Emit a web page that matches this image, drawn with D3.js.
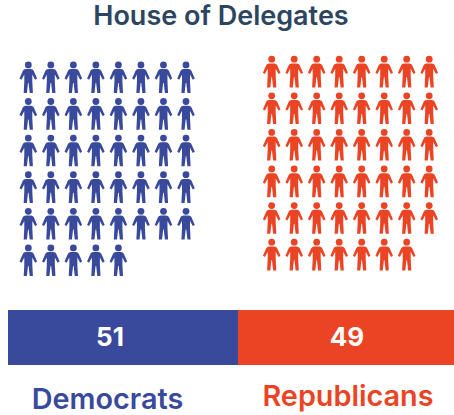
<!DOCTYPE html>
<html>
<head>
<meta charset="utf-8">
<script src="https://cdn.jsdelivr.net/npm/d3@7"></script>
<style>
  html, body { margin: 0; padding: 0; background: #fff; overflow: hidden; }
  text { font-family: Inter, "Open Sans", sans-serif; }
</style>
</head>
<body>
<svg id="chart"></svg>
<script>
// values as printed on the bar
let parties = ["Democrats", "Republicans"];
let seats = [51, 49];
// people actually drawn in the picture, per party
let iconCounts = [45, 47];
let title = "House of Delegates";
let colors = ["#39499c", "#ea4424"];

let width = 454, height = 415;
let perRow = 8, rows = 6;

// person glyph, origin at top of the head, centred on x
let personPath = "M-2.6,7.6 L2.6,7.6 Q4.6,7.6 5.4,9.2 L8.8,17 L6.8,18.2 L4,13 L4,20 " +
    "L4.6,31.6 L1.4,31.6 L0.3,21.5 L-0.3,21.5 L-1.4,31.6 L-4.6,31.6 L-4,20 L-4,13 " +
    "L-6.8,18.2 L-8.8,17 L-5.4,9.2 Q-4.6,7.6 -2.6,7.6 Z";

let svg = d3.select("#chart")
    .attr("width", width)
    .attr("height", height);

svg.append("text")
    .attr("x", 221)
    .attr("y", 25)
    .attr("text-anchor", "middle")
    .style("font-size", "27px")
    .style("font-weight", 600)
    .style("fill", "#2c4560")
    .text(title);

// icon grids
let colIndex = d3.range(perRow);
let rowIndex = d3.range(rows);
let grids = [
    {x: d3.scalePoint().domain(colIndex).range([28.3, 186]), y: d3.scalePoint().domain(rowIndex).range([61.5, 244.5])},
    {x: d3.scalePoint().domain(colIndex).range([271.7, 429.2]), y: d3.scalePoint().domain(rowIndex).range([55.8, 238.8])}
];

parties.forEach(function (party, p) {
    let g = svg.append("g").attr("class", "icons-" + p);
    let person = g.selectAll("g")
        .data(d3.range(iconCounts[p]))
        .enter().append("g")
        .attr("transform", function (d) {
            let col = d % perRow;
            let row = Math.floor(d / perRow);
            return "translate(" + grids[p].x(col) + "," + grids[p].y(row) + ")";
        })
        .style("fill", colors[p]);
    person.append("circle")
        .attr("cx", 0)
        .attr("cy", 3.4)
        .attr("r", 3.4);
    person.append("path")
        .attr("d", personPath);
});

// stacked bar, the scale runs past the window edge like the original
let x = d3.scaleLinear().domain([0, 100]).range([8, 459]);
let stack = d3.cumsum(seats);
let starts = stack.map(function (s, i) { return s - seats[i]; });

svg.selectAll(".seg")
    .data(seats)
    .enter().append("rect")
    .attr("class", "seg")
    .attr("x", function (d, i) { return x(starts[i]); })
    .attr("y", 310)
    .attr("width", function (d) { return x(d) - x(0); })
    .attr("height", 55)
    .style("fill", function (d, i) { return colors[i]; });

let labelX = [110, 347];
svg.selectAll(".seat-label")
    .data(seats)
    .enter().append("text")
    .attr("class", "seat-label")
    .attr("x", function (d, i) { return labelX[i]; })
    .attr("y", 346)
    .attr("text-anchor", "middle")
    .style("font-size", "26px")
    .style("font-weight", 700)
    .style("fill", "#fff")
    .text(function (d) { return d; });

let partyX = [107.5, 348];
let partyY = [408.5, 406];
svg.selectAll(".party")
    .data(parties)
    .enter().append("text")
    .attr("class", "party")
    .attr("x", function (d, i) { return partyX[i]; })
    .attr("y", function (d, i) { return partyY[i]; })
    .attr("text-anchor", "middle")
    .style("font-size", "28.8px")
    .style("font-weight", 600)
    .style("fill", function (d, i) { return colors[i]; })
    .text(function (d) { return d; });
</script>
</body>
</html>
